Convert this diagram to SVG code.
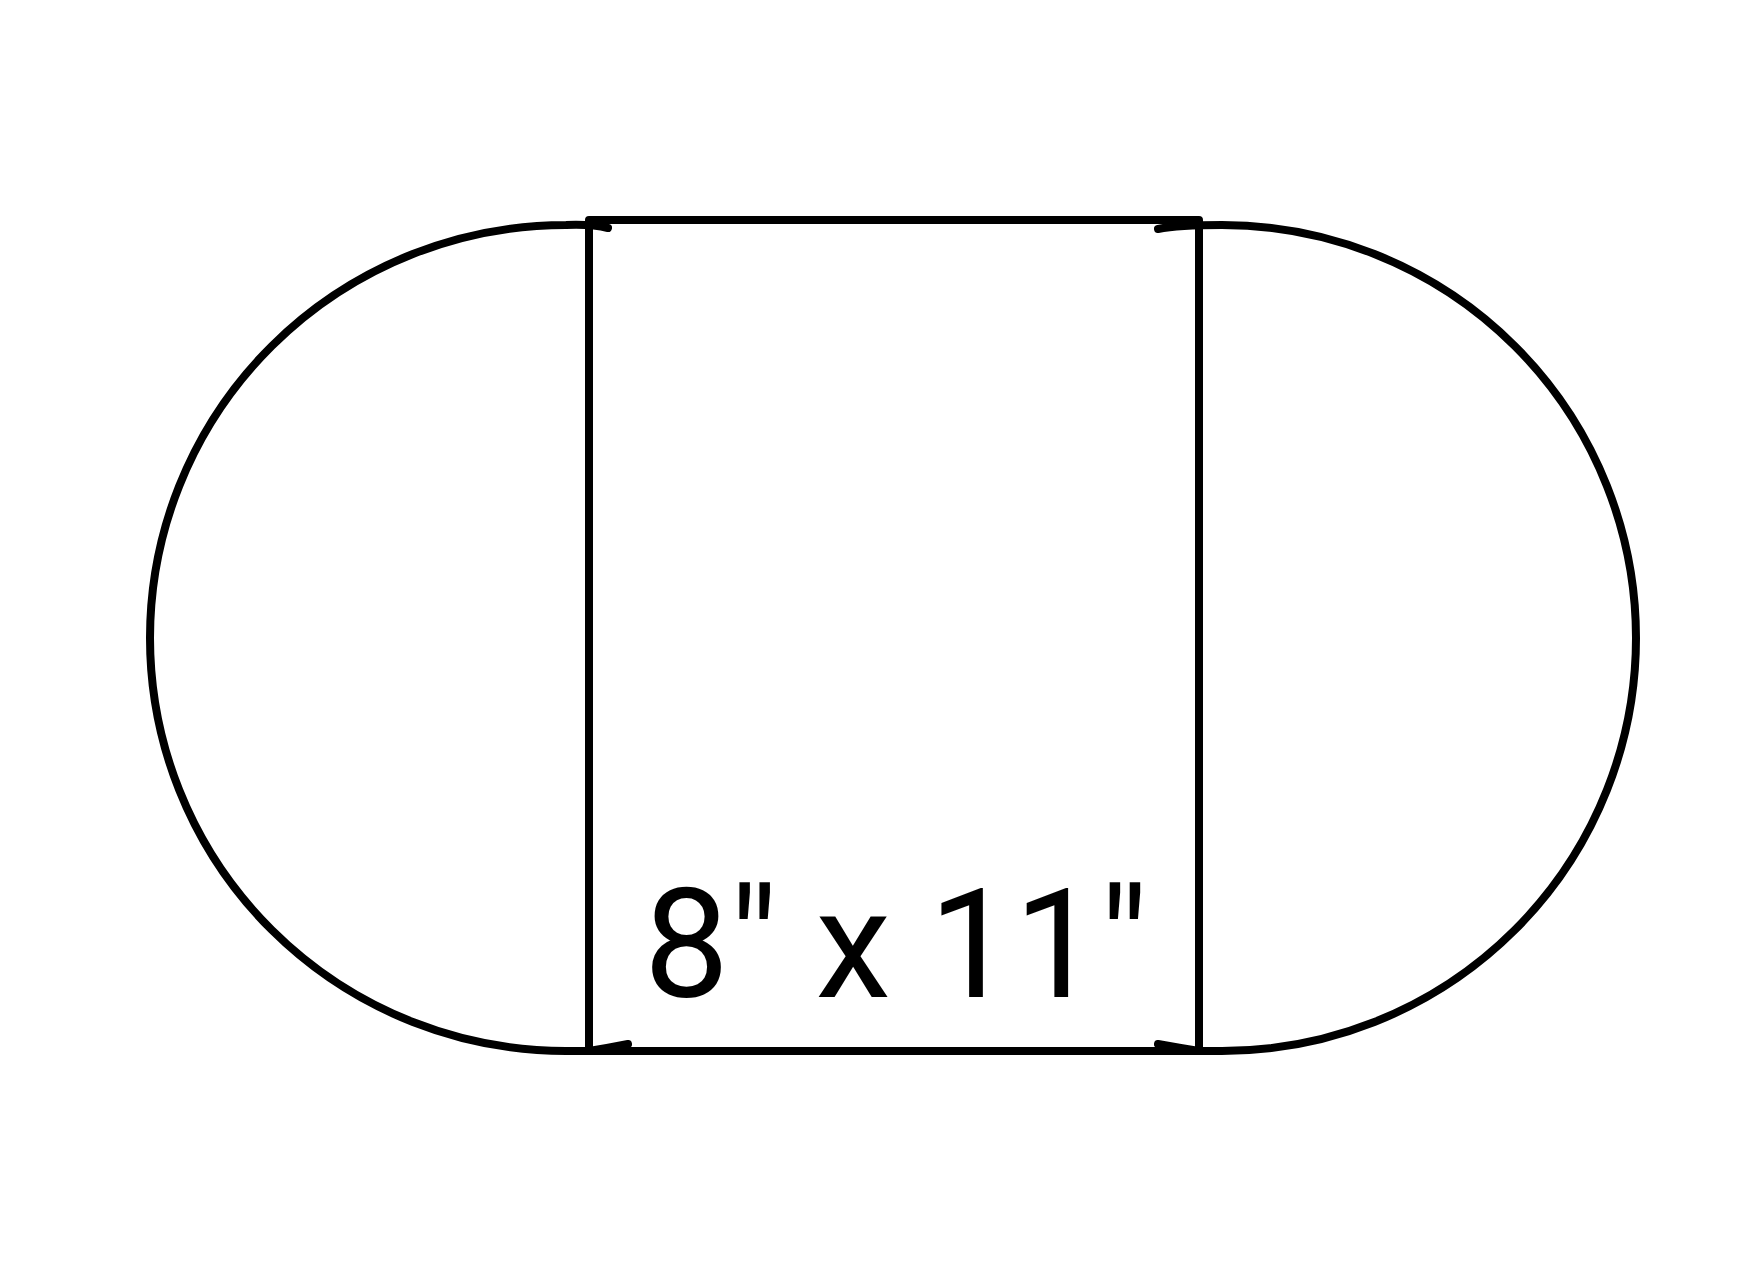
<svg xmlns="http://www.w3.org/2000/svg" width="1756" height="1270" viewBox="0 0 1756 1270">
<style>
.ln{fill:none;stroke:#000;stroke-width:8;stroke-linecap:round;stroke-linejoin:round}
</style>
<rect width="1756" height="1270" fill="#fff"/>
<g id="left-half">
<path class="ln" d="M608,228 Q592,224 566,225 A416 413 0 0 0 566,1051 L589,1051 Q608,1048 628,1044"/>
</g>
<g id="right-half">
<path class="ln" d="M1158,229 Q1178,225 1222,225 A414 413 0 0 1 1222,1051 L1199,1051 Q1180,1048 1158,1044"/>
</g>
<g id="page">
<rect class="ln" x="589" y="220" width="610" height="831"/>
<text x="896" y="997" text-anchor="middle" font-family="Roboto, 'Liberation Sans', sans-serif" font-size="152" fill="#000">8" x 11"</text>
</g>
</svg>
